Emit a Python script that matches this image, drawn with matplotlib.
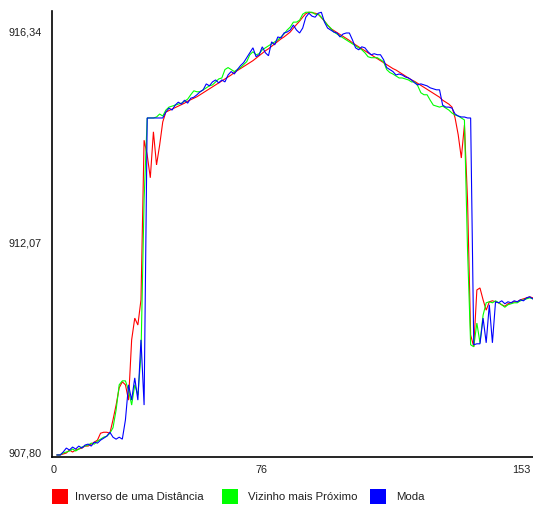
import matplotlib
matplotlib.use("Agg")
import matplotlib.pyplot as plt
from matplotlib.patches import Rectangle

# ---- data ----
inverso = [907.76, 907.76, 907.78, 907.80, 907.86, 907.82, 907.86, 907.88, 907.90, 907.94,
           907.94, 907.98, 908.02, 908.06, 908.20, 908.22, 908.22, 908.20, 908.47, 908.77,
           909.12, 909.24, 909.18, 908.87, 910.09, 910.53, 910.39, 910.90, 914.13, 913.83,
           913.37, 914.30, 913.63, 914.03, 914.50, 914.70, 914.73, 914.76, 914.79, 914.82,
           914.85, 914.88, 914.92, 914.95, 914.98, 915.01, 915.05, 915.09, 915.13, 915.17,
           915.21, 915.25, 915.29, 915.33, 915.37, 915.41, 915.45, 915.50, 915.54, 915.58,
           915.62, 915.66, 915.70, 915.74, 915.79, 915.84, 915.89, 915.94, 915.98, 916.03,
           916.08, 916.13, 916.18, 916.22, 916.27, 916.32, 916.40, 916.47, 916.54, 916.62,
           916.69, 916.72, 916.71, 916.70, 916.68, 916.61, 916.54, 916.46, 916.39, 916.35,
           916.31, 916.27, 916.23, 916.19, 916.15, 916.10, 916.06, 916.02, 915.98, 915.94,
           915.90, 915.86, 915.82, 915.78, 915.74, 915.70, 915.66, 915.62, 915.58, 915.55,
           915.51, 915.47, 915.43, 915.39, 915.35, 915.32, 915.28, 915.24, 915.20, 915.16,
           915.12, 915.08, 915.04, 915.00, 914.94, 914.90, 914.86, 914.80, 914.58, 914.24,
           913.77, 914.44, 912.92, 910.19, 909.95, 911.10, 911.14, 910.90, 910.69, 910.86,
           910.88, 910.86, 910.84, 910.80, 910.77, 910.82, 910.84, 910.86, 910.86, 910.90,
           910.92, 910.94, 910.96, 910.94]

vizinho = [907.76, 907.76, 907.80, 907.82, 907.84, 907.88, 907.84, 907.88, 907.92, 907.94,
           907.96, 908.00, 907.98, 908.04, 908.08, 908.12, 908.14, 908.20, 908.31, 908.67,
           909.18, 909.26, 909.26, 909.07, 908.77, 909.18, 908.97, 909.78, 912.92, 914.58,
           914.58, 914.58, 914.60, 914.66, 914.62, 914.74, 914.80, 914.82, 914.84, 914.86,
           914.88, 914.92, 914.96, 915.05, 915.13, 915.11, 915.11, 915.15, 915.19, 915.23,
           915.25, 915.31, 915.37, 915.39, 915.56, 915.60, 915.56, 915.52, 915.56, 915.60,
           915.66, 915.72, 915.86, 915.92, 915.86, 915.88, 915.96, 916.00, 916.04, 916.08,
           916.12, 916.16, 916.22, 916.28, 916.36, 916.42, 916.52, 916.52, 916.56, 916.68,
           916.72, 916.72, 916.72, 916.68, 916.68, 916.62, 916.54, 916.46, 916.40, 916.32,
           916.28, 916.24, 916.20, 916.16, 916.12, 916.08, 916.04, 916.00, 915.96, 915.90,
           915.82, 915.80, 915.80, 915.80, 915.76, 915.72, 915.56, 915.50, 915.47, 915.43,
           915.39, 915.39, 915.37, 915.35, 915.31, 915.31, 915.23, 915.09, 915.05, 915.05,
           914.94, 914.84, 914.82, 914.80, 914.82, 914.78, 914.74, 914.68, 914.64, 914.62,
           914.58, 914.54, 911.91, 909.99, 909.95, 910.43, 910.03, 910.59, 910.84, 910.86,
           910.84, 910.88, 910.84, 910.80, 910.75, 910.80, 910.82, 910.84, 910.84, 910.88,
           910.90, 910.92, 910.94, 910.92]

moda = [907.76, 907.76, 907.82, 907.90, 907.86, 907.92, 907.88, 907.94, 907.90, 907.96,
        907.98, 907.94, 908.02, 908.00, 908.06, 908.10, 908.14, 908.22, 908.12, 908.08,
        908.12, 908.08, 908.47, 909.18, 908.87, 909.32, 908.87, 910.09, 908.77, 914.58,
        914.58, 914.58, 914.58, 914.58, 914.58, 914.70, 914.78, 914.74, 914.84, 914.90,
        914.86, 914.94, 914.88, 914.98, 915.00, 915.05, 915.11, 915.15, 915.27, 915.23,
        915.31, 915.35, 915.29, 915.35, 915.31, 915.45, 915.52, 915.47, 915.56, 915.64,
        915.70, 915.80, 915.90, 916.00, 915.82, 915.86, 916.02, 915.90, 915.84, 916.12,
        916.06, 916.22, 916.20, 916.30, 916.32, 916.36, 916.46, 916.36, 916.30, 916.40,
        916.62, 916.70, 916.64, 916.62, 916.70, 916.72, 916.52, 916.40, 916.36, 916.32,
        916.30, 916.22, 916.28, 916.30, 916.30, 916.16, 916.00, 915.96, 916.02, 916.00,
        915.92, 915.86, 915.88, 915.86, 915.86, 915.76, 915.60, 915.56, 915.52, 915.45,
        915.47, 915.45, 915.41, 915.39, 915.35, 915.29, 915.25, 915.27, 915.25, 915.23,
        915.19, 915.17, 915.15, 915.15, 914.84, 914.80, 914.80, 914.78, 914.66, 914.62,
        914.60, 914.60, 914.58, 914.58, 909.99, 910.01, 910.01, 910.53, 910.03, 910.80,
        910.03, 910.86, 910.84, 910.88, 910.82, 910.86, 910.84, 910.88, 910.86, 910.90,
        910.88, 910.94, 910.96, 910.92]

series_names = ["Inverso de uma Distância", "Vizinho mais Próximo", "Moda"]
series_colors = ["#ff0000", "#00ff00", "#0000ff"]
y_ticks = [907.80, 912.07, 916.34]
y_tick_labels = ["907,80", "912,07", "916,34"]
x_tick_labels = ["0", "76", "153"]

plt.rcParams['font.family'] = ['Liberation Sans', 'DejaVu Sans']

W, H = 533, 505
fig = plt.figure(figsize=(W / 100, H / 100), dpi=100)
ax = fig.add_axes([52 / W, (H - 457) / H, (W - 52) / W, (457 - 11) / H])

x = list(range(len(inverso)))
for data, col in zip([inverso, vizinho, moda], series_colors):
    ax.plot(x, data, color=col, lw=0.8, solid_joinstyle='miter')

ax.set_xlim(-1.61, 153.05)
ax.set_ylim(907.719, 916.745)

ax.set_yticks(y_ticks)
ax.set_yticklabels(y_tick_labels)
ax.set_xticks([-0.96, 65.9, 149.2])
ax.set_xticklabels(x_tick_labels)
ax.tick_params(axis='y', length=0, pad=7.2, labelsize=7.8, colors='#202020')
ax.tick_params(axis='x', length=0, pad=5.5, labelsize=7.8, colors='#202020')

for s in ['top', 'right']:
    ax.spines[s].set_visible(False)
for s in ['left', 'bottom']:
    ax.spines[s].set_linewidth(1.2)
    ax.spines[s].set_color('black')

# legend at the bottom
sq_x = [52, 222, 370]
txt_x = [75, 248, 396]
for name, col, sx, tx in zip(series_names, series_colors, sq_x, txt_x):
    fig.add_artist(Rectangle((sx / W, (H - 504) / H), 16 / W, 15 / H,
                             transform=fig.transFigure, facecolor=col, edgecolor='none'))
    fig.text(tx / W, (H - 497) / H, name, fontsize=8.2, va='center', ha='left', color='#202020')

fig.savefig("out.png", dpi=100)
